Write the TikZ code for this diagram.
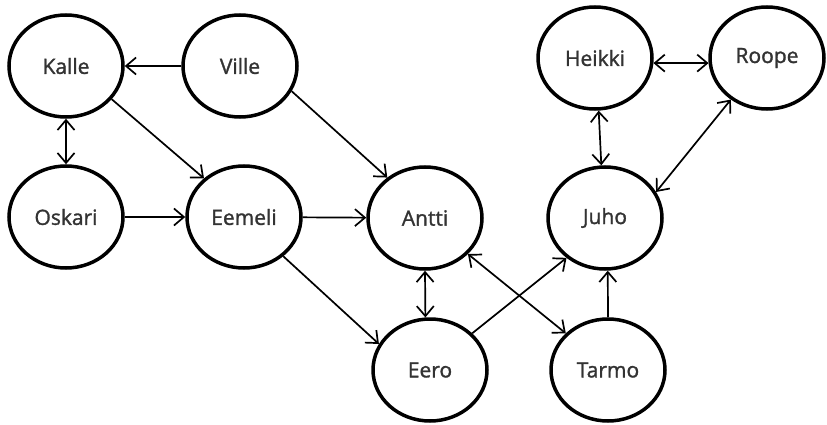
\documentclass[tikz,border=0pt]{standalone}
\usepackage{fontspec}
\setmainfont{Open Sans}[FakeBold=1.4]
\usetikzlibrary{arrows.meta,shapes.geometric}
\definecolor{txt}{HTML}{333333}
\tikzset{
  person/.style={ellipse, draw=black, line width=3.5pt, minimum width=114pt, minimum height=102pt, inner sep=0pt, text=txt, font=\fontsize{21}{23}\selectfont},
  conn/.style={line width=1.7pt, -{Straight Barb[length=10pt,width=17pt,line width=1.7pt]}},
  biconn/.style={line width=1.7pt, {Straight Barb[length=10pt,width=17pt,line width=1.7pt]}-{Straight Barb[length=10pt,width=17pt,line width=1.7pt]}}
}
\begin{document}
\begin{tikzpicture}[x=1pt,y=-1pt]
\useasboundingbox (0,0) rectangle (827,425);
\node[person] (Kalle) at (66,66) {Kalle};
\node[person] (Ville) at (240,66) {Ville};
\node[person] (Oskari) at (66,217) {Oskari};
\node[person] (Eemeli) at (244,217) {Eemeli};
\node[person] (Antti) at (425,218) {Antti};
\node[person] (Juho) at (605,218) {Juho};
\node[person] (Eero) at (430,370) {Eero};
\node[person] (Tarmo) at (608,370) {Tarmo};
\node[person] (Heikki) at (595,58) {Heikki};
\node[person] (Roope) at (767,58) {Roope};
\draw[conn] (Ville) -- (Kalle);
\draw[conn] (Kalle.-36) -- (Eemeli.136);
\draw[biconn] (Kalle) -- (Oskari);
\draw[conn] (Oskari) -- (Eemeli);
\draw[conn] (Ville.-26) -- (Antti.133);
\draw[conn] (Eemeli) -- (Antti);
\draw[conn] (Eemeli.-45) -- (Eero.153);
\draw[biconn] (Antti.south) -- (Eero.95);
\draw[conn] (Eero.41) -- (Juho.-134);
\draw[biconn] (Antti.-40) -- (Tarmo.139);
\draw[conn] (Tarmo.north) -- (Juho.-87);
\draw[biconn] (Heikki.-5) -- (Roope.185);
\draw[biconn] (Heikki.-86) -- (Juho.94);
\draw[biconn] (Roope.-131) -- (Juho.27);
\end{tikzpicture}
\end{document}
